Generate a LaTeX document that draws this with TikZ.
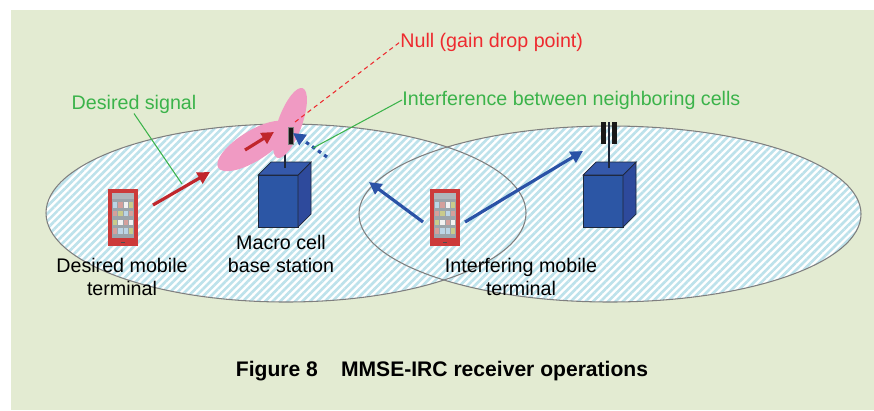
\documentclass[tikz,border=0pt]{standalone}
\usepackage{fontspec}
\setmainfont{Liberation Sans}
\usetikzlibrary{arrows.meta,patterns.meta}

\definecolor{panel}{HTML}{E3EBD2}
\definecolor{hatch}{HTML}{BDE2EB}
\definecolor{cellline}{HTML}{7F7F7F}
\definecolor{sigred}{HTML}{C0262C}
\definecolor{intblue}{HTML}{2A52A6}
\definecolor{lblgreen}{HTML}{3BB34A}
\definecolor{nullred}{HTML}{EE2A2F}
\definecolor{beam}{HTML}{F09AC3}
\definecolor{boxfront}{HTML}{2C56A5}
\definecolor{boxside}{HTML}{2E4A9C}
\definecolor{boxtop}{HTML}{3559AB}
\definecolor{boxedge}{HTML}{1E2638}
\definecolor{phonebody}{HTML}{CC3A3A}
\definecolor{phonescreen}{HTML}{9BA4AA}
\definecolor{tileb}{HTML}{BBD5E6}
\definecolor{tilep}{HTML}{D4A09C}
\definecolor{tilew}{HTML}{F2F2F2}
\definecolor{tileo}{HTML}{C9CB8C}

% handset at top-left corner (#1,#2)
\newcommand\handset[2]{%
  \begin{scope}[shift={(#1,#2)}]
    \fill[phonebody] (0,0) rectangle (30,57);
    \fill[phonescreen] (4,4) rectangle (26,49);
    \fill[phonescreen!80!white] (4,4) rectangle (26,10);
    \foreach \col/\row/\tc in {0/0/tileb,1/0/tilep,2/0/tilew,3/0/tileo,
                               0/1/tilep,1/1/tileo,2/1/tileb,3/1/tilep,
                               0/2/tileo,1/2/tilew,2/2/tilep,3/2/tilew,
                               0/3/tilep,1/3/tileb,2/3/tileb,3/3/tileo}
      \fill[\tc] (5+5.3*\col,13+8.8*\row) rectangle ++(4.3,5.5);
    \fill[black!70] (13,52.5) rectangle (17,54);
  \end{scope}}

% base station box, front face top-left at (#1,#2)
\newcommand\bsbox[2]{%
  \filldraw[draw=boxedge,fill=boxfront] (#1,#2) rectangle ++(40,52);
  \filldraw[draw=boxedge,fill=boxside] (#1+40,#2) -- ++(13,-13) -- ++(0,52) -- ++(-13,13) -- cycle;
  \filldraw[draw=boxedge,fill=boxtop] (#1,#2) -- ++(13,-13) -- ++(40,0) -- ++(-13,13) -- cycle;}

\tikzset{
  lbl/.style={font=\fontsize{11.2}{13}\selectfont,inner sep=0pt},
  cellfill/.style={fill=white,postaction={pattern={Lines[angle=45,distance=3pt,line width=1.5pt]},pattern color=hatch}},
  cell/.style={draw=cellline,line width=0.6pt},
  sigarrow/.style={sigred,line width=1.8pt,-{Triangle[length=7pt,width=7pt]}},
  intarrow/.style={intblue,line width=1.8pt,-{Triangle[length=7pt,width=7pt]}},
}

\begin{document}
\begin{tikzpicture}[x=0.02cm,y=-0.02cm]
\useasboundingbox (0,0) rectangle (874,410);
\fill[panel] (11,10) rectangle (874,410);

% the two cells
\path[cellfill] (286,213) ellipse [x radius=240, y radius=89];
\path[cellfill] (610,214) ellipse [x radius=251, y radius=88];
\draw[cell] (286,213) ellipse [x radius=240, y radius=89];
\draw[cell] (610,214) ellipse [x radius=251, y radius=88];

% base stations
\bsbox{258}{175}
\bsbox{583}{175}
\draw[boxedge,line width=0.8pt] (285,168) -- (285,144);
\draw[boxedge,line width=0.8pt] (609,168) -- (609,122);

% beam pattern with null
\fill[beam,rotate around={32:(253,146)}] (253,146) ellipse [x radius=41, y radius=15];
\fill[beam,rotate around={70:(290,123)}] (290,123) ellipse [x radius=37, y radius=12];

% antennas
\filldraw[fill=black!90,draw=black!50,line width=0.4pt] (288,127) rectangle (293,144);
\fill[black!90] (601,122) rectangle (606,144);
\fill[black!90] (612,122) rectangle (617,144);

% terminals
\handset{108}{189}
\handset{430}{189}

% arrow end points
\coordinate (beamtail) at (245,150);
\coordinate (beamhead) at (274,132);
\coordinate (ue1tx) at (153,205);
\coordinate (ue1rx) at (210,172);
\coordinate (ue2left) at (423,222);
\coordinate (bs1int) at (369,182);
\coordinate (ue2right) at (465,222);
\coordinate (bs2rx) at (583,151);
\coordinate (inttail) at (327,157);
\coordinate (inthead) at (293,133);
\coordinate (nullpt) at (295,122);
\coordinate (intpt) at (313,148);
\coordinate (sigpt) at (182,184);

% signals
\draw[sigarrow] (beamtail) -- (beamhead);
\draw[sigarrow] (ue1tx) -- (ue1rx);
\draw[intarrow] (ue2left) -- (bs1int);
\draw[intarrow] (ue2right) -- (bs2rx);
\draw[intarrow,dash pattern=on 2pt off 2.2pt] (inttail) -- (inthead);

% labels
\node[lbl,text=nullred,anchor=west] (null) at (400,42) {Null (gain drop point)};
\node[lbl,text=lblgreen,anchor=west] (interf) at (402,100) {Interference between neighboring cells};
\node[lbl,text=lblgreen] (desired) at (134,104) {Desired signal};
\draw[nullred,line width=0.6pt,dash pattern=on 2.5pt off 2pt] (nullpt) -- (null.west);
\draw[lblgreen,line width=0.6pt] (intpt) -- (interf.west);
\draw[lblgreen,line width=0.6pt] (sigpt) -- (desired.south);

\node[lbl,align=center] (ue1) at (122,277) {Desired mobile\\terminal};
\node[lbl,align=center] (bs1) at (281,254) {Macro cell\\base station};
\node[lbl,align=center] (ue2) at (521,277) {Interfering mobile\\terminal};

\node[font=\bfseries\fontsize{12}{14}\selectfont] (caption) at (442,371)
  {Figure 8\hspace{1.1em}MMSE-IRC receiver operations};
\end{tikzpicture}
\end{document}
